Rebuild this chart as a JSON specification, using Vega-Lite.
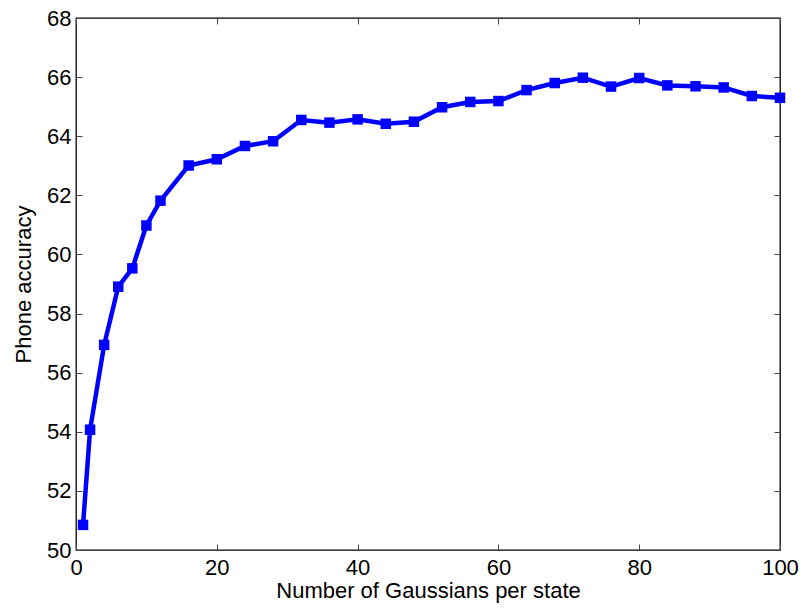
{
  "$schema": "https://vega.github.io/schema/vega-lite/v6.json",
  "width": 704,
  "height": 532,
  "autosize": {"type": "none"},
  "padding": {"left": 76, "top": 18, "right": 24, "bottom": 62},
  "background": "white",
  "config": {
    "view": {"stroke": "black", "strokeWidth": 1.3},
    "font": "Liberation Sans",
    "axis": {
      "grid": false,
      "domain": false,
      "tickColor": "#444",
      "tickSize": -6,
      "tickWidth": 1,
      "labelFlush": false,
      "labelOverlap": false,
      "labelFont": "Liberation Sans",
      "labelFontSize": 22,
      "labelColor": "black",
      "titleFont": "Liberation Sans",
      "titleFontSize": 22,
      "titleFontWeight": "normal",
      "titleColor": "black"
    }
  },
  "data": {
    "values": [
      {"g": 1, "acc": 50.85},
      {"g": 2, "acc": 54.07},
      {"g": 4, "acc": 56.94},
      {"g": 6, "acc": 58.91},
      {"g": 8, "acc": 59.53},
      {"g": 10, "acc": 60.98},
      {"g": 12, "acc": 61.82},
      {"g": 16, "acc": 63.01},
      {"g": 20, "acc": 63.22},
      {"g": 24, "acc": 63.67},
      {"g": 28, "acc": 63.83},
      {"g": 32, "acc": 64.55},
      {"g": 36, "acc": 64.46},
      {"g": 40, "acc": 64.57},
      {"g": 44, "acc": 64.42},
      {"g": 48, "acc": 64.49},
      {"g": 52, "acc": 64.98},
      {"g": 56, "acc": 65.16},
      {"g": 60, "acc": 65.19},
      {"g": 64, "acc": 65.56},
      {"g": 68, "acc": 65.8},
      {"g": 72, "acc": 65.98},
      {"g": 76, "acc": 65.68},
      {"g": 80, "acc": 65.97},
      {"g": 84, "acc": 65.72},
      {"g": 88, "acc": 65.69},
      {"g": 92, "acc": 65.65},
      {"g": 96, "acc": 65.36},
      {"g": 100, "acc": 65.3}
    ]
  },
  "layer": [
    {
      "mark": {"type": "line", "color": "#0000ff", "strokeWidth": 4.5, "point": {"shape": "square", "size": 110, "color": "#0000ff", "opacity": 1}},
      "encoding": {
        "x": {"field": "g", "type": "quantitative", "scale": {"domain": [0, 100], "nice": false}, "axis": {"values": [0, 20, 40, 60, 80, 100], "title": "Number of Gaussians per state", "labelPadding": 13, "titlePadding": 2}},
        "y": {"field": "acc", "type": "quantitative", "scale": {"domain": [50, 68], "nice": false, "zero": false}, "axis": {"values": [50, 52, 54, 56, 58, 60, 62, 64, 66, 68], "title": "Phone accuracy", "labelPadding": 11, "titlePadding": 11}}
      }
    },
    {
      "mark": {"type": "point", "opacity": 0},
      "encoding": {
        "x": {"field": "g", "type": "quantitative", "scale": {"domain": [0, 100], "nice": false}, "axis": {"orient": "top", "values": [0, 20, 40, 60, 80, 100], "labels": false, "title": null}},
        "y": {"field": "acc", "type": "quantitative", "scale": {"domain": [50, 68], "nice": false, "zero": false}, "axis": {"orient": "right", "values": [50, 52, 54, 56, 58, 60, 62, 64, 66, 68], "labels": false, "title": null}}
      }
    }
  ],
  "resolve": {"axis": {"x": "independent", "y": "independent"}}
}
